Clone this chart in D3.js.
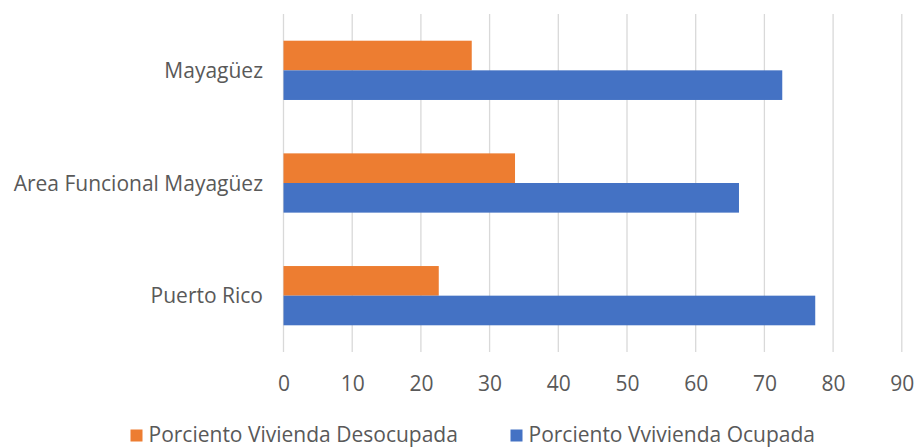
<!DOCTYPE html>
<html><head><meta charset="utf-8">
<script src="https://cdn.jsdelivr.net/npm/d3@7"></script>
<style>body{margin:0;background:#fff}svg{display:block}text{font-family:"Open Sans",sans-serif;fill:#595959}</style>
</head><body><svg id="c" width="914" height="447"></svg>
<script>
const categories = ["Mayagüez", "Area Funcional Mayagüez", "Puerto Rico"];
const seriesNames = ["Porciento Vivienda Desocupada", "Porciento Vvivienda Ocupada"];
const desocupada = [27.4, 33.7, 22.6];
const ocupada = [72.6, 66.3, 77.4];
const xTicks = [0, 10, 20, 30, 40, 50, 60, 70, 80, 90];
const colors = ["#ED7D31", "#4472C4"];

const svg = d3.select("#c");
const x = d3.scaleLinear().domain([0, 90]).range([283.5, 901.8]);
const y = d3.scaleBand().domain(categories).range([14, 352]).paddingInner(0.474).paddingOuter(0.237);
const sub = d3.scaleBand().domain([0, 1]).range([0, y.bandwidth()]);

// gridlines
svg.append("g").selectAll("line").data(xTicks).join("line")
  .attr("x1", d => x(d)).attr("x2", d => x(d)).attr("y1", 14).attr("y2", 352)
  .attr("stroke", "#d9d9d9").attr("stroke-width", 1.3);

const values = [desocupada, ocupada];
values.forEach((vals, si) => {
  svg.append("g").selectAll("rect").data(categories).join("rect")
    .attr("x", x(0)).attr("y", (c) => y(c) + sub(si))
    .attr("width", (c, i) => x(vals[i]) - x(0)).attr("height", sub.bandwidth())
    .attr("fill", colors[si]);
});

// category labels
svg.append("g").selectAll("text").data(categories).join("text")
  .attr("x", 263).attr("y", c => y(c) + y.bandwidth() / 2 + 7.5)
  .attr("text-anchor", "end").attr("font-size", 21).text(d => d);

// x axis labels
const ax = svg.append("g").attr("transform", "translate(0,352)")
  .call(d3.axisBottom(x).tickValues(xTicks).tickSize(0).tickPadding(0));
ax.select(".domain").remove();
ax.selectAll("text").attr("font-size", 21).attr("dy", 0).attr("y", 38.5)
  .style("font-family", '"Open Sans",sans-serif').attr("fill", "#595959");

// legend
const legX = [130.5, 510.5];
const lg = svg.append("g").selectAll("g").data(seriesNames).join("g")
  .attr("transform", (d, i) => `translate(${legX[i]},0)`);
lg.append("rect").attr("x", 0).attr("y", 429.5).attr("width", 12).attr("height", 12).attr("fill", (d, i) => colors[i]);
lg.append("text").attr("x", 18).attr("y", 441.5).attr("font-size", 21).text(d => d);
</script></body></html>
